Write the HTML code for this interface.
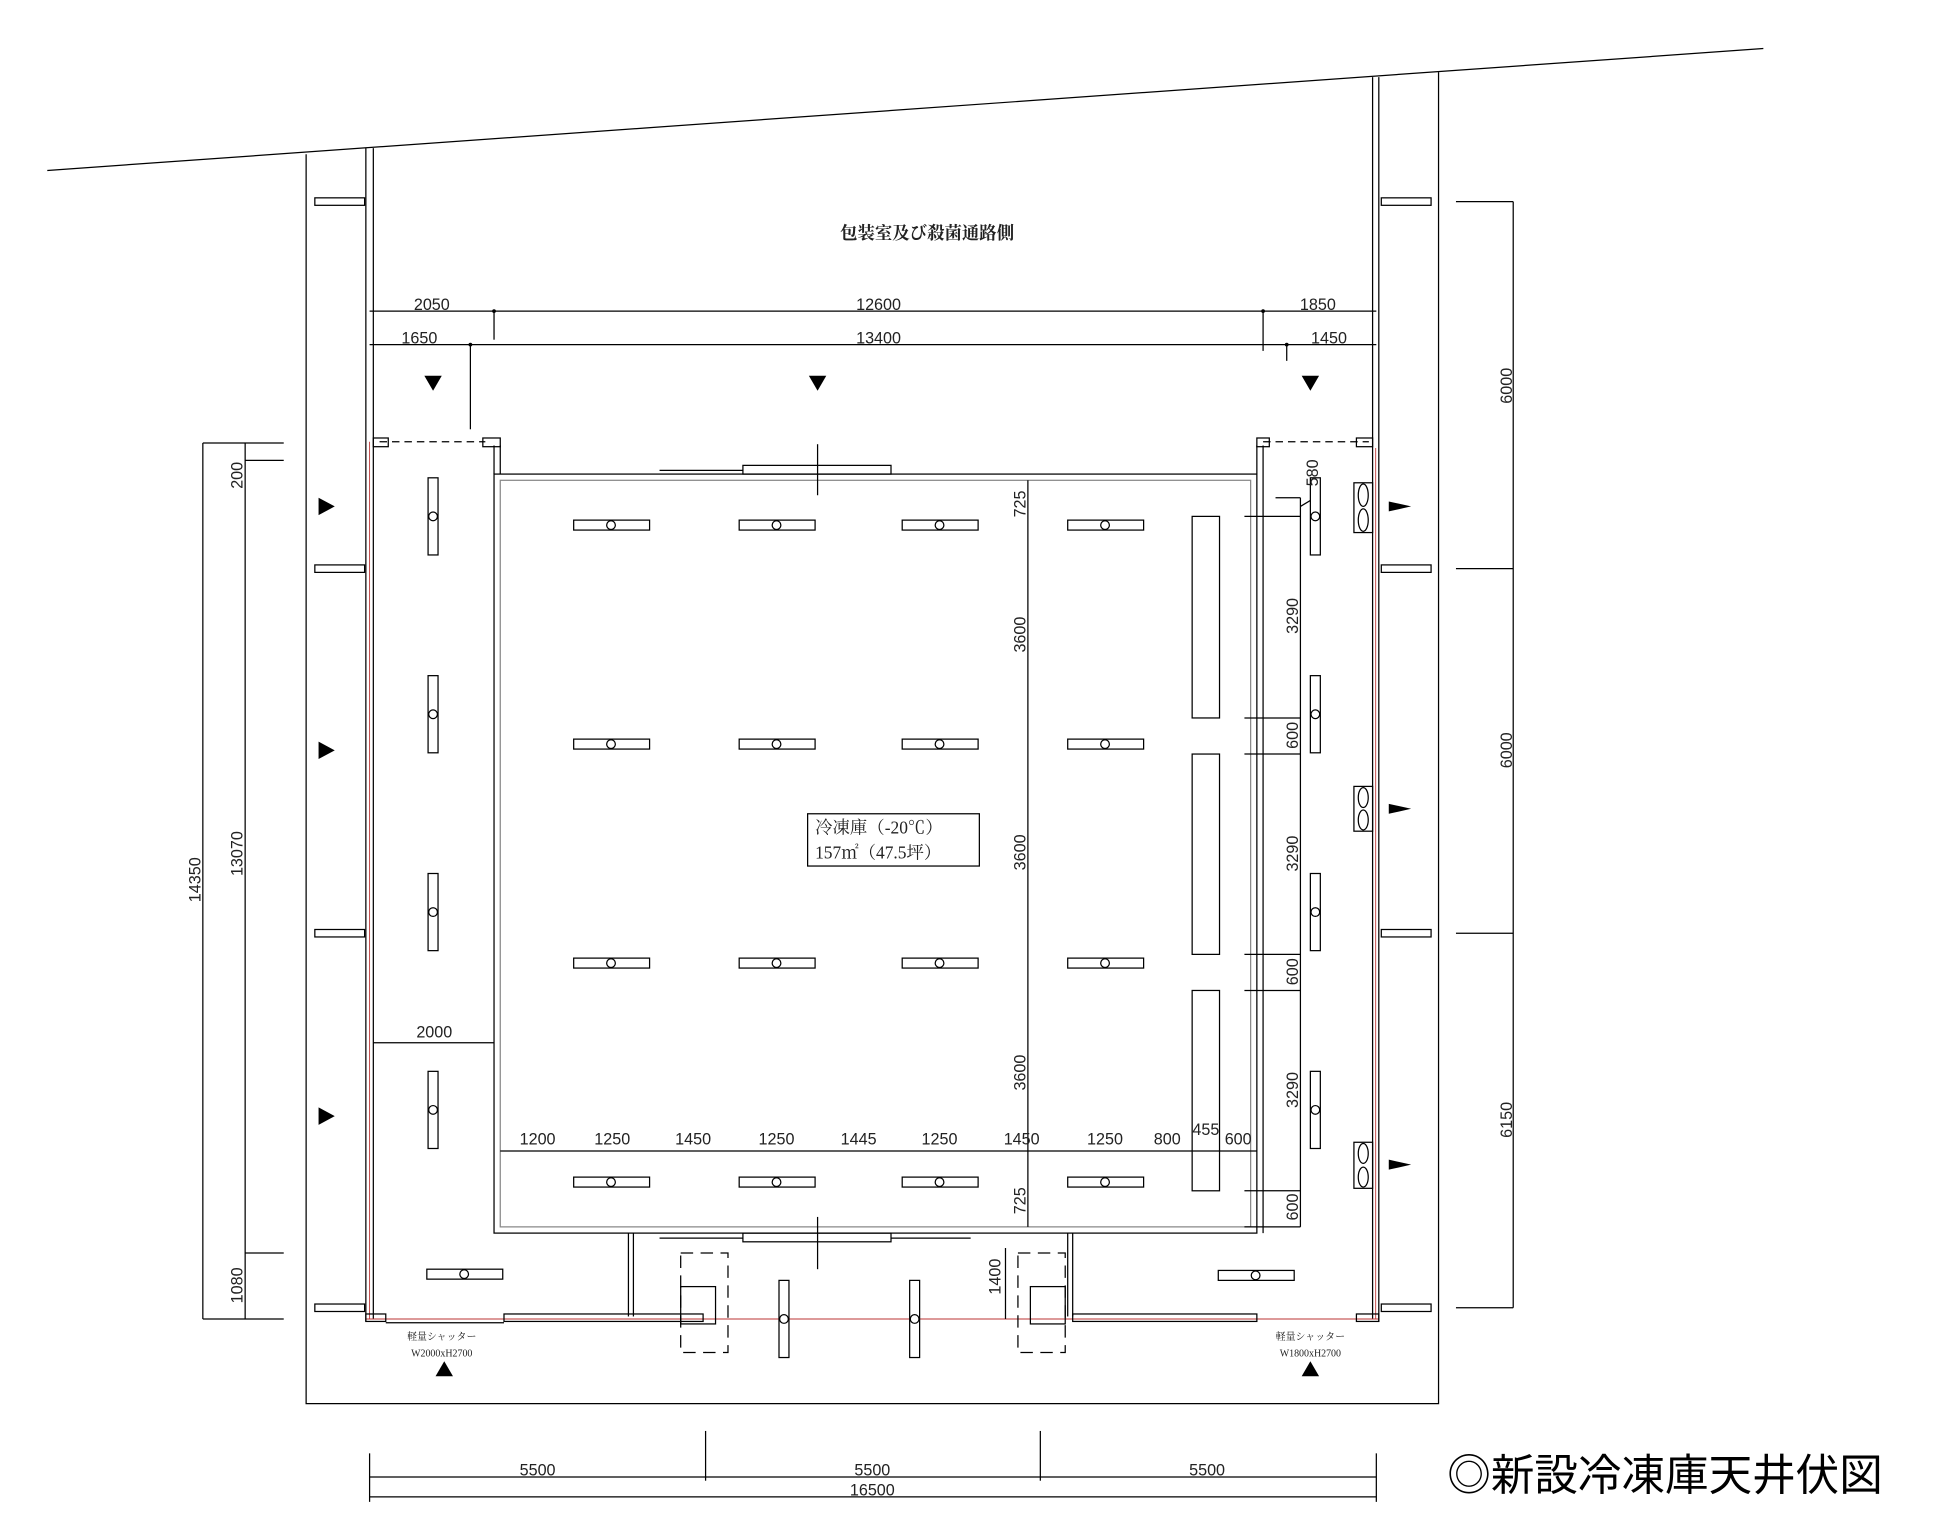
<!DOCTYPE html>
<html><head><meta charset="utf-8"><style>
html,body{margin:0;padding:0;background:#fff;}
svg{display:block;}
text{font-family:"Liberation Sans","Noto Sans CJK JP",sans-serif;fill:#222;}
.s{font-family:"Liberation Serif","Noto Serif CJK SC",serif;}
</style></head><body>
<svg width="1950" height="1528" viewBox="0 0 1567 1228" preserveAspectRatio="none" xmlns="http://www.w3.org/2000/svg">
<defs>
<g id="h" stroke="#000" fill="#fff" stroke-width="1"><rect x="-30" y="-4" width="61" height="8"/><circle cx="0" cy="0" r="3.5"/></g>
<g id="v" stroke="#000" fill="#fff" stroke-width="1"><rect x="-4" y="-31" width="8" height="62"/><circle cx="0" cy="0" r="3.5"/></g>
</defs>
<g stroke="#000" stroke-width="1" fill="none">
<line x1="38" y1="137" x2="1417" y2="39"/>
<polyline points="246,124 246,1128 1156,1128 1156,58"/>
<line x1="294" y1="119" x2="294" y2="1062"/><line x1="300" y1="119" x2="300" y2="1060"/>
<line x1="297" y1="355" x2="297" y2="1060" stroke="#b33" stroke-width="0.7"/>
<line x1="1103" y1="62" x2="1103" y2="1060"/><line x1="1108" y1="62" x2="1108" y2="1062"/>
<line x1="1105.5" y1="360" x2="1105.5" y2="1060" stroke="#b33" stroke-width="0.7"/>
<line x1="294" y1="1060" x2="1108" y2="1060" stroke="#b33" stroke-width="0.8"/>
<rect x="294" y="1056" width="16" height="6"/><rect x="405" y="1056" width="160" height="6"/>
<rect x="862" y="1056" width="148" height="6"/><rect x="1090" y="1056" width="18" height="6"/>
<line x1="310" y1="1063" x2="405" y2="1063"/>
<rect x="253" y="159" width="40" height="6"/><rect x="253" y="454" width="40" height="6"/><rect x="253" y="747" width="40" height="6"/><rect x="253" y="1048" width="40" height="6"/>
<rect x="1110" y="159" width="40" height="6"/><rect x="1110" y="454" width="40" height="6"/><rect x="1110" y="747" width="40" height="6"/><rect x="1110" y="1048" width="40" height="6"/>
<line x1="1216" y1="162" x2="1216" y2="1051"/>
<line x1="1170" y1="162" x2="1216" y2="162"/><line x1="1170" y1="457" x2="1216" y2="457"/><line x1="1170" y1="750" x2="1216" y2="750"/><line x1="1170" y1="1051" x2="1216" y2="1051"/>
<line x1="163" y1="356" x2="163" y2="1060"/><line x1="197" y1="356" x2="197" y2="1060"/>
<line x1="163" y1="356" x2="228" y2="356"/><line x1="197" y1="370" x2="228" y2="370"/>
<line x1="163" y1="1060" x2="228" y2="1060"/><line x1="197" y1="1007" x2="228" y2="1007"/>
<line x1="297" y1="250" x2="1106" y2="250"/><line x1="297" y1="277" x2="1106" y2="277"/>
<line x1="397" y1="250" x2="397" y2="273"/><line x1="1015" y1="250" x2="1015" y2="282"/>
<line x1="378" y1="277" x2="378" y2="345"/><line x1="1034" y1="277" x2="1034" y2="290"/>
<line x1="300" y1="838" x2="397" y2="838"/>
<rect x="397" y="381" width="613" height="610"/>
<rect x="402" y="386" width="603" height="600" stroke="#888"/>
<line x1="397" y1="358" x2="397" y2="381"/><line x1="402" y1="358" x2="402" y2="381"/>
<line x1="1010" y1="358" x2="1010" y2="381"/><line x1="1015" y1="358" x2="1015" y2="991"/>
<line x1="305" y1="355" x2="390" y2="355" stroke-dasharray="6,4"/>
<line x1="1015" y1="355" x2="1100" y2="355" stroke-dasharray="6,4"/>
<rect x="300" y="352" width="12" height="7"/><rect x="388" y="352" width="14" height="7"/>
<rect x="1010" y="352" width="10" height="7"/><rect x="1090" y="352" width="13" height="7"/>
<rect x="597" y="374" width="119" height="7"/><line x1="530" y1="378" x2="597" y2="378"/>
<line x1="657" y1="357" x2="657" y2="398"/>
<rect x="597" y="991" width="119" height="7"/><line x1="530" y1="995" x2="597" y2="995"/><line x1="716" y1="995" x2="780" y2="995"/>
<line x1="657" y1="978" x2="657" y2="1020"/>
<line x1="505" y1="991" x2="505" y2="1058"/><line x1="509" y1="991" x2="509" y2="1058"/>
<line x1="862" y1="991" x2="862" y2="1058"/><line x1="858" y1="991" x2="858" y2="1058"/>
<rect x="547" y="1007" width="38" height="80" stroke-dasharray="10,6"/>
<rect x="818" y="1007" width="38" height="80" stroke-dasharray="10,6"/>
<rect x="547" y="1034" width="28" height="30"/><rect x="828" y="1034" width="28" height="30"/>
<line x1="808" y1="1003" x2="808" y2="1060"/>
<line x1="826" y1="386" x2="826" y2="986"/>
<line x1="402" y1="925" x2="1010" y2="925"/>
<line x1="1045" y1="400" x2="1045" y2="986"/>
<line x1="1000" y1="415" x2="1045" y2="415"/><line x1="1000" y1="577" x2="1045" y2="577"/><line x1="1000" y1="606" x2="1045" y2="606"/>
<line x1="1000" y1="767" x2="1045" y2="767"/><line x1="1000" y1="796" x2="1045" y2="796"/><line x1="1000" y1="957" x2="1045" y2="957"/><line x1="1000" y1="986" x2="1045" y2="986"/>
<line x1="1025" y1="400" x2="1045" y2="400"/>
<line x1="1045" y1="407" x2="1060" y2="398"/>
<rect x="958" y="415" width="22" height="162"/><rect x="958" y="606" width="22" height="161"/><rect x="958" y="796" width="22" height="161"/>
<rect x="1088" y="388" width="15" height="40"/><rect x="1088" y="632" width="15" height="36"/><rect x="1088" y="918" width="15" height="37"/>
<ellipse cx="1095.5" cy="398" rx="4" ry="9"/><ellipse cx="1095.5" cy="418" rx="4" ry="9"/>
<ellipse cx="1095.5" cy="641" rx="4" ry="8"/><ellipse cx="1095.5" cy="659" rx="4" ry="8"/>
<ellipse cx="1095.5" cy="927" rx="4" ry="8"/><ellipse cx="1095.5" cy="946" rx="4" ry="8"/>
<rect x="649" y="654" width="138" height="42"/>
</g>
<g fill="#000">
<circle cx="397" cy="250" r="1.5"/><circle cx="1015" cy="250" r="1.5"/><circle cx="378" cy="277" r="1.5"/><circle cx="1034" cy="277" r="1.5"/>
<polygon points="341,302 355,302 348,314"/><polygon points="650,302 664,302 657,314"/><polygon points="1046,302 1060,302 1053,314"/>
<polygon points="256,400 256,414 269,407"/><polygon points="256,596 256,610 269,603"/><polygon points="256,890 256,904 269,897"/>
<polygon points="1116,403 1116,411 1134,407"/><polygon points="1116,646 1116,654 1134,650"/><polygon points="1116,932 1116,940 1134,936"/>
<polygon points="350,1106 364,1106 357,1094"/><polygon points="1046,1106 1060,1106 1053,1094"/>
</g>
<use href="#h" x="491" y="422"/><use href="#h" x="624" y="422"/><use href="#h" x="755" y="422"/><use href="#h" x="888" y="422"/>
<use href="#h" x="491" y="598"/><use href="#h" x="624" y="598"/><use href="#h" x="755" y="598"/><use href="#h" x="888" y="598"/>
<use href="#h" x="491" y="774"/><use href="#h" x="624" y="774"/><use href="#h" x="755" y="774"/><use href="#h" x="888" y="774"/>
<use href="#h" x="491" y="950"/><use href="#h" x="624" y="950"/><use href="#h" x="755" y="950"/><use href="#h" x="888" y="950"/>
<use href="#h" x="373" y="1024"/><use href="#h" x="1009" y="1025"/>
<use href="#v" x="348" y="415"/><use href="#v" x="348" y="574"/><use href="#v" x="348" y="733"/><use href="#v" x="348" y="892"/>
<use href="#v" x="1057" y="415"/><use href="#v" x="1057" y="574"/><use href="#v" x="1057" y="733"/><use href="#v" x="1057" y="892"/>
<use href="#v" x="630" y="1060"/><use href="#v" x="735" y="1060"/>
<g stroke="#000" fill="none">
<line x1="297" y1="1187" x2="1106" y2="1187"/><line x1="297" y1="1203" x2="1106" y2="1203"/>
<line x1="297" y1="1168" x2="297" y2="1207"/><line x1="1106" y1="1168" x2="1106" y2="1207"/>
<line x1="567" y1="1150" x2="567" y2="1190"/><line x1="836" y1="1150" x2="836" y2="1190"/>
</g>
<g font-size="13" text-anchor="middle">
<text x="347" y="249">2050</text><text x="706" y="249">12600</text><text x="1059" y="249">1850</text>
<text x="337" y="276">1650</text><text x="706" y="276">13400</text><text x="1068" y="276">1450</text>
<text x="432" y="1186">5500</text><text x="701" y="1186">5500</text><text x="970" y="1186">5500</text><text x="701" y="1202">16500</text>
<text x="349" y="834">2000</text>
<text x="432" y="920">1200</text><text x="492" y="920">1250</text><text x="557" y="920">1450</text><text x="624" y="920">1250</text><text x="690" y="920">1445</text><text x="755" y="920">1250</text><text x="821" y="920">1450</text><text x="888" y="920">1250</text><text x="938" y="920">800</text><text x="969" y="912">455</text><text x="995" y="920">600</text>
<text transform="translate(1215,310) rotate(-90)">6000</text><text transform="translate(1215,603) rotate(-90)">6000</text><text transform="translate(1215,900) rotate(-90)">6150</text>
<text transform="translate(161,707) rotate(-90)">14350</text><text transform="translate(195,382) rotate(-90)">200</text><text transform="translate(195,686) rotate(-90)">13070</text><text transform="translate(195,1033) rotate(-90)">1080</text>
<text transform="translate(824,405) rotate(-90)">725</text><text transform="translate(824,510) rotate(-90)">3600</text><text transform="translate(824,685) rotate(-90)">3600</text><text transform="translate(824,862) rotate(-90)">3600</text><text transform="translate(824,965) rotate(-90)">725</text>
<text transform="translate(1043,495) rotate(-90)">3290</text><text transform="translate(1043,591) rotate(-90)">600</text><text transform="translate(1043,686) rotate(-90)">3290</text><text transform="translate(1043,781) rotate(-90)">600</text><text transform="translate(1043,876) rotate(-90)">3290</text><text transform="translate(1043,970) rotate(-90)">600</text>
<text transform="translate(1059,380) rotate(-90)">580</text><text transform="translate(804,1026) rotate(-90)">1400</text>
</g>
<text class="s" x="745" y="192" font-size="14" font-weight="bold" text-anchor="middle">包装室及び殺菌通路側</text>
<text class="s" x="655" y="670" font-size="14">冷凍庫（-20℃）</text>
<text class="s" x="655" y="690" font-size="14">157㎡（47.5坪）</text>
<g font-size="8" text-anchor="middle">
<text class="s" x="355" y="1077">軽量シャッター</text><text class="s" x="355" y="1090">W2000xH2700</text>
<text class="s" x="1053" y="1077">軽量シャッター</text><text class="s" x="1053" y="1090">W1800xH2700</text>
</g>
<text x="1338" y="1198" font-size="35" text-anchor="middle" style="fill:#000">◎新設冷凍庫天井伏図</text>
</svg>
</body></html>
